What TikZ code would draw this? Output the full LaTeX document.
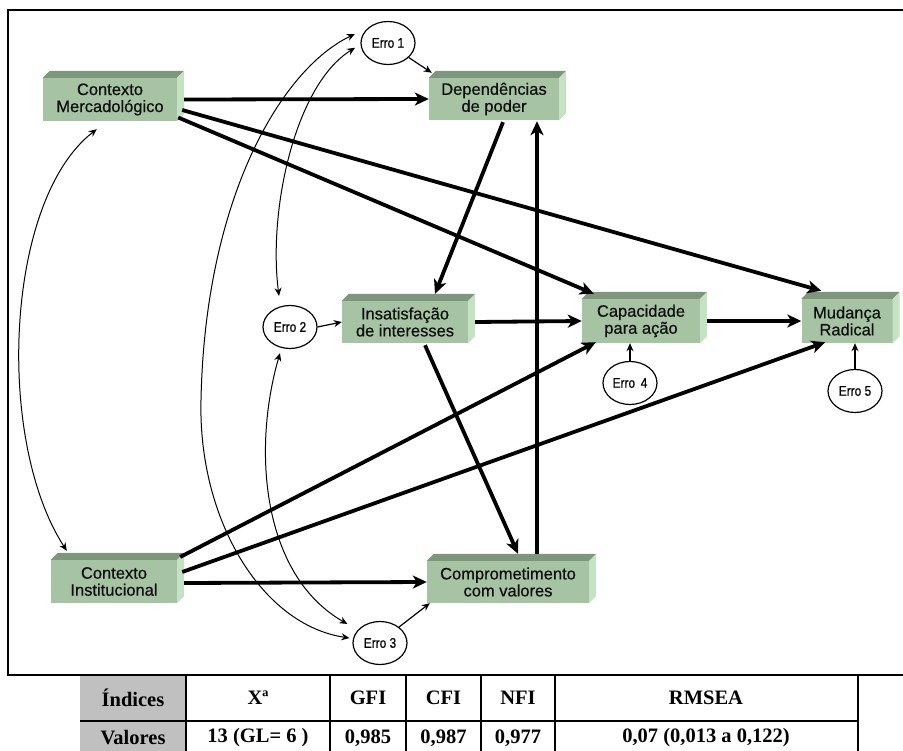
\documentclass[tikz,border=0pt]{standalone}
\usepackage{fontspec}
\setmainfont{Liberation Sans}
\newfontfamily\boxfont[FakeBold=0.6]{Liberation Sans}
\newfontfamily\errfont[FakeStretch=0.85,FakeBold=0.6]{Liberation Sans}
\newfontfamily\tabfont{Liberation Serif}
\usetikzlibrary{arrows.meta,calc,shapes.geometric}

\definecolor{boxfront}{RGB}{166,196,164}
\definecolor{boxtop}{RGB}{126,150,124}
\definecolor{boxside}{RGB}{198,226,196}
\definecolor{tabgrey}{RGB}{192,192,192}
\definecolor{ink}{RGB}{15,15,15}

\tikzset{
  stage/.style={rectangle, fill=boxfront, inner sep=0pt, align=center,
    text=ink, font=\boxfont\fontsize{16.5}{17}\selectfont},
  errnode/.style={ellipse, draw, line width=1.2pt, fill=white,
    minimum width=54pt, minimum height=43pt, inner sep=0pt,
    font=\errfont\fontsize{14}{14}\selectfont},
  effect/.style={line width=3.8pt, -{Stealth[length=14pt,width=13pt,inset=4pt]}},
  link/.style={line width=1.2pt, -{Stealth[length=8pt,width=7pt]}},
  covar/.style={line width=1pt, {Stealth[length=8pt,width=7pt]}-{Stealth[length=8pt,width=7pt]}},
  tabcell/.style={font=\tabfont\bfseries\fontsize{20.5}{20.5}\selectfont, inner sep=0pt}
}

% 3D stage box: name, centre x, centre y, width, height, text
\newcommand\stagebox[6]{%
  \node[stage, minimum width=#4pt, minimum height=#5pt] (#1) at (#2,#3) {#6};
  \fill[boxtop] (#1.north west) -- ++(7,-7) -- ($(#1.north east)+(7,-7)$)
    -- (#1.north east) -- cycle;
  \fill[boxside] (#1.north east) -- ++(7,-7) -- ($(#1.south east)+(7,-7)$)
    -- (#1.south east) -- cycle;
}

\begin{document}
\begin{tikzpicture}[x=1pt,y=-1pt]
\useasboundingbox (0,0) rectangle (903,751);

% outer frame
\draw[line width=2.6pt] (903,10) -- (8,10) -- (8,675);
\draw[line width=2pt] (7,675) -- (903,675);

% stages
\stagebox{cm}{110}{99.5}{134}{43}{Contexto\\Mercadológico}
\stagebox{dp}{494}{99}{130}{42}{Dependências\\de poder}
\stagebox{ii}{405}{322}{126}{42}{Insatisfação\\de interesses}
\stagebox{ca}{641}{321}{118}{44}{Capacidade\\para ação}
\stagebox{mr}{847}{321}{91}{44}{Mudança\\Radical}
\stagebox{ci}{114}{581.5}{126}{43}{Contexto\\Institucional}
\stagebox{cv}{508}{582}{162}{42}{Comprometimento\\com valores}

% error terms
\node[errnode] (e1) at (388,43) {Erro 1};
\node[errnode] (e2) at (290,327) {Erro 2};
\node[errnode] (e3) at (380,643) {Erro 3};
\node[errnode] (e4) at (630,383) {Erro \,4};
\node[errnode] (e5) at (855,391) {Erro 5};

% structural paths
\draw[effect] ($(cm.east)+(7,0)$) -- (dp.west);
\draw[effect] ($(cm.east)+(5,10.5)$) -- ($(mr.north west)+(20,-8)$);
\draw[effect] ($(cm.east)+(1,18)$) -- ($(ca.north west)+(12,-5)$);
\draw[effect] ($(dp.south)+(9,2)$) -- ($(ii.north)+(30,-7)$);
\draw[effect] ($(ii.east)+(7,0)$) -- (ca.west);
\draw[effect] ($(ca.east)+(7,0)$) -- (mr.west);
\draw[effect] ($(ii.south)+(20,2)$) -- ($(cv.north)+(10,-7)$);
\draw[effect] ($(cv.north)+(29,-7)$) -- ($(dp.south)+(43,1)$);
\draw[effect] ($(ci.east)+(3,-24.5)$) -- ($(ca.south west)+(14,-1)$);
\draw[effect] ($(ci.east)+(5,-9.5)$) -- ($(mr.south west)+(24,-1)$);
\draw[effect] ($(ci.east)+(7,1.5)$) -- (cv.west);

% error links
\draw[link] (e1.-35) -- ($(dp.north west)+(3,-5)$);
\draw[link] (e2.east) -- (ii.west);
\draw[link] (e3.40) -- ($(cv.south west)+(3,0)$);
\draw[link] (e4.north) -- (e4.north |- ca.south);
\draw[link] (e5.north) -- (e5.north |- mr.south);

% covariances
\draw[covar] ($(cm.south west)+(54,8)$) .. controls (5,200) and (-5,440) .. ($(ci.north west)+(16,-9)$);
\draw[covar] ($(e1.190)+(-6,0)$) .. controls (295,85) and (268,210) .. ($(e2.north)+(-11,-9)$);
\draw[covar] ($(e1.165)+(-7,-2)$) .. controls (280,70) and (205,200) .. (201,400)
  .. controls (198,520) and (262,625) .. ($(e3.west)+(-3,-5)$);
\draw[covar] ($(e2.south)+(-10,4)$) .. controls (252,450) and (262,575) .. ($(e3.west)+(-5,-19)$);

% fit indices table
\fill[tabgrey] (80,676) rectangle (186,751);
\draw[line width=1.6pt] (80,721) -- (858,721);
\foreach \x in {186,330,406,481,555,858} \draw[line width=1.3pt] (\x,675) -- (\x,751);
\node[tabcell] (hidx) at (133,698) {Índices};
\node[tabcell] (hchi) at (258,698) {Xª};
\node[tabcell] (hgfi) at (368,698) {GFI};
\node[tabcell] (hcfi) at (443.5,698) {CFI};
\node[tabcell] (hnfi) at (518,698) {NFI};
\node[tabcell] (hrms) at (706,698) {RMSEA};
\node[tabcell] (vidx) at (133,738) {Valores};
\node[tabcell] (vchi) at (258,738) {13 (GL= 6 )};
\node[tabcell] (vgfi) at (368,738) {0,985};
\node[tabcell] (vcfi) at (443.5,738) {0,987};
\node[tabcell] (vnfi) at (518,738) {0,977};
\node[tabcell] (vrms) at (706,738) {0,07 (0,013 a 0,122)};
\end{tikzpicture}
\end{document}
